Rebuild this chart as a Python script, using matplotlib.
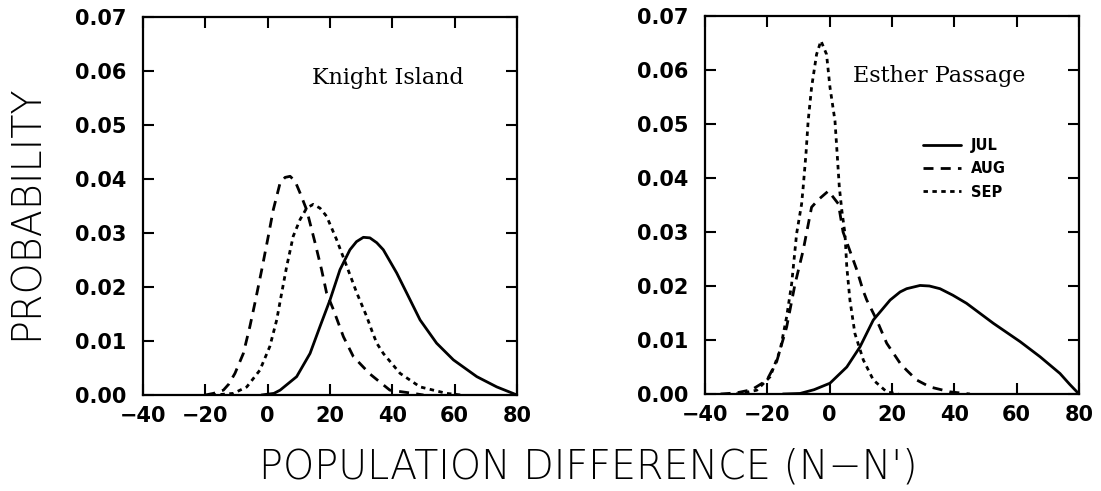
import matplotlib
matplotlib.use("Agg")
import matplotlib.pyplot as plt

# ---------------- data ----------------
X_TICKS = [-40, -20, 0, 20, 40, 60, 80]
Y_TICKS = [0.00, 0.01, 0.02, 0.03, 0.04, 0.05, 0.06, 0.07]
PANEL_TITLES = ["Knight Island", "Esther Passage"]
SERIES_NAMES = ["JUL", "AUG", "SEP"]

# Knight Island
KI_JUL_X = [-2, 2, 4, 9.3, 13.6, 16.8, 20, 23.2, 26.4, 28.5, 30.7, 32.8, 35, 37.1, 41.4, 44.6, 48.9, 54.2, 59.6, 67.1, 73.5, 80]
KI_JUL_Y = [0.0, 0.0003, 0.0009, 0.0034, 0.0077, 0.0127, 0.0176, 0.0232, 0.0269, 0.0284, 0.0292, 0.0291, 0.0282, 0.0269, 0.0226, 0.0189, 0.0139, 0.0096, 0.0065, 0.0034, 0.0015, 0.0]

KI_AUG_X = [-20, -17.4, -14.2, -12.5, -10.5, -7.8, -5.7, -4.1, -1.9, 0.2, 1.8, 4, 5.6, 7.2, 8.8, 10.4, 12.5, 15.2, 17.3, 18.9, 21.1, 24.3, 27.5, 32.8, 39.2, 46.7, 50]
KI_AUG_Y = [0.0, 0.0003, 0.0009, 0.0020, 0.0040, 0.0077, 0.0127, 0.0170, 0.0232, 0.0294, 0.0343, 0.0393, 0.0403, 0.0405, 0.0396, 0.0374, 0.0343, 0.0282, 0.0232, 0.0189, 0.0158, 0.0108, 0.0071, 0.0039, 0.0009, 0.0003, 0.0]

KI_SEP_X = [-18, -15, -11, -6.7, -2.5, 0.7, 2.9, 4.5, 6.1, 8.2, 10.4, 12.5, 14.6, 16.8, 18.9, 22.1, 25.4, 28.6, 31.8, 33.5, 35, 37.1, 42.5, 48.9, 57.4, 62]
KI_SEP_Y = [0.0, 0.0001, 0.0003, 0.0015, 0.0046, 0.0090, 0.0139, 0.0189, 0.0238, 0.0294, 0.0325, 0.0346, 0.0353, 0.0346, 0.0331, 0.0288, 0.0238, 0.0189, 0.0145, 0.0118, 0.0096, 0.0077, 0.0040, 0.0015, 0.0003, 0.0]

# Esther Passage
EP_JUL_X = [-15, -9.5, -5, 0.1, 5.5, 9.7, 14, 19.4, 22.6, 24.7, 29, 32, 35.4, 39.5, 43.9, 52.5, 61.1, 67.5, 73.9, 77, 80]
EP_JUL_Y = [0.0, 0.0001, 0.0008, 0.0020, 0.0050, 0.0087, 0.0137, 0.0174, 0.0189, 0.0195, 0.0201, 0.0200, 0.0195, 0.0183, 0.0168, 0.0131, 0.0097, 0.0069, 0.0038, 0.0018, 0.0]

EP_AUG_X = [-35, -30, -25, -20.2, -17, -13.8, -11.1, -8.5, -5.8, -3.6, -0.4, 2.8, 4.3, 6.5, 8.7, 10.7, 11.9, 15.1, 18.3, 22.6, 24.7, 27.9, 32.2, 38.6, 45]
EP_AUG_Y = [0.0, 0.0002, 0.0008, 0.0025, 0.0060, 0.0124, 0.0204, 0.0266, 0.0346, 0.0360, 0.0376, 0.0352, 0.0300, 0.0265, 0.0230, 0.0192, 0.0174, 0.0137, 0.0094, 0.0057, 0.0044, 0.0026, 0.0013, 0.0004, 0.0]

EP_SEP_X = [-30, -27.7, -23.4, -19.1, -15.9, -13.8, -12.2, -10.6, -9, -8.5, -7.6, -6.9, -5.8, -4.2, -2.8, -1, 0.1, 1.7, 2.4, 3.1, 3.9, 4.9, 5.5, 6.5, 8.1, 10.8, 14, 18.3, 22]
EP_SEP_Y = [0.0, 0.0002, 0.0007, 0.0032, 0.0081, 0.0143, 0.0204, 0.0297, 0.0352, 0.0383, 0.0445, 0.0506, 0.0568, 0.0629, 0.0654, 0.0629, 0.0568, 0.0506, 0.0445, 0.0383, 0.0340, 0.0297, 0.0235, 0.0174, 0.0112, 0.0063, 0.0026, 0.0004, 0.0]

PANELS = [
    [(KI_JUL_X, KI_JUL_Y), (KI_AUG_X, KI_AUG_Y), (KI_SEP_X, KI_SEP_Y)],
    [(EP_JUL_X, EP_JUL_Y), (EP_AUG_X, EP_AUG_Y), (EP_SEP_X, EP_SEP_Y)],
]

# ---------------- style ----------------
LW = 2.0
STYLES = [
    dict(linestyle="-"),
    dict(linestyle=(0, (3.6, 2.6))),
    dict(linestyle=(0, (1.6, 1.6))),
]
TITLE_POS = [(14.2, 0.0576), (7.5, 0.0577)]

fig = plt.figure(figsize=(11.01, 4.91), dpi=100, facecolor="white")
axes_rects = [
    [143 / 1101, 1 - 395 / 491, 374 / 1101, 378 / 491],
    [705 / 1101, 1 - 394 / 491, 374 / 1101, 378 / 491],
]

tick_font = dict(family="DejaVu Sans", weight="bold", size=15)

for i, rect in enumerate(axes_rects):
    ax = fig.add_axes(rect)
    for (xs, ys), name, st in zip(PANELS[i], SERIES_NAMES, STYLES):
        ax.plot(xs, ys, color="black", lw=LW, label=name,
                solid_capstyle="round", dash_capstyle="butt", **st)
    ax.set_xlim(-40, 80)
    ax.set_ylim(0, 0.07)
    ax.set_xticks(X_TICKS)
    ax.set_yticks(Y_TICKS)
    ax.set_xticklabels([f"{v}".replace("-", "\u2212") for v in X_TICKS], fontdict=tick_font)
    ax.set_yticklabels([f"{v:.2f}" for v in Y_TICKS], fontdict=tick_font)
    ax.tick_params(axis="both", direction="in", length=8, width=1.5,
                   top=True, right=True)
    ax.tick_params(axis="y", pad=12)
    ax.tick_params(axis="x", pad=8)
    for sp in ax.spines.values():
        sp.set_linewidth(1.6)
    tx, ty = TITLE_POS[i]
    ax.text(tx, ty, PANEL_TITLES[i], family="DejaVu Serif", fontsize=16,
            ha="left", va="baseline")
    if i == 1:
        leg = ax.legend(loc="upper left", bbox_to_anchor=(0.583, 0.676),
                        frameon=False, handlelength=2.6, handletextpad=0.7,
                        labelspacing=0.55, borderpad=0, borderaxespad=0,
                        prop=dict(family="DejaVu Sans", weight="bold", size=10.5))

fig.text(588 / 1101, 1 - 467 / 491, "POPULATION DIFFERENCE (N\u2212N')",
         family="DejaVu Sans", fontsize=28.5, fontweight=200,
         ha="center", va="center")
fig.text(26 / 1101, 1 - 212 / 491, "PROBABILITY",
         family="DejaVu Sans", fontsize=28.5, fontweight=200,
         ha="center", va="center", rotation=90)

fig.savefig("out.png", dpi=100, facecolor="white")
